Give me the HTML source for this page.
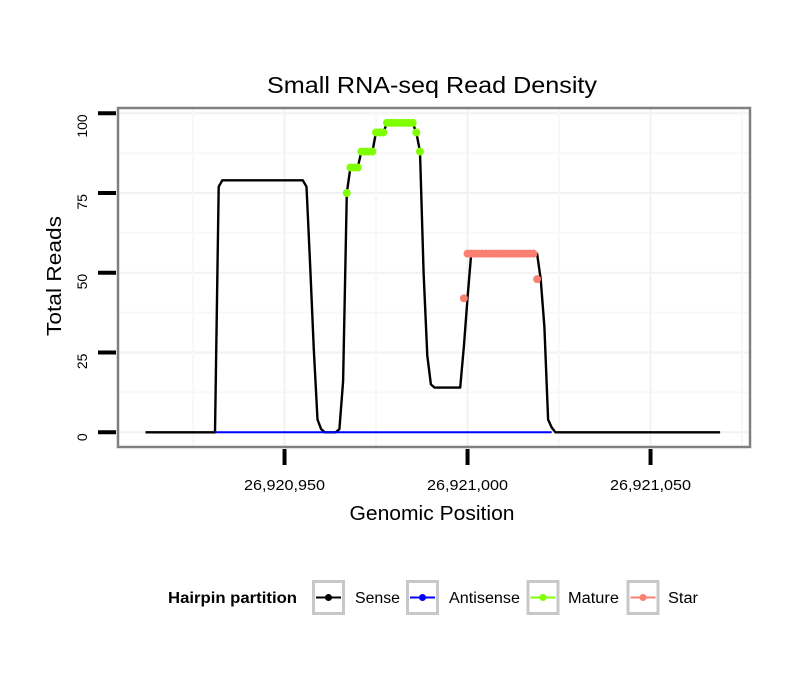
<!DOCTYPE html>
<html><head><meta charset="utf-8"><style>
body{margin:0;background:#fff}
svg text{font-family:"Liberation Sans",sans-serif}
</style></head><body>
<svg id="chart" width="810" height="690" xmlns="http://www.w3.org/2000/svg">
<rect width="810" height="690" fill="#fff"/>
<text x="432" y="93" font-size="23" textLength="330" lengthAdjust="spacingAndGlyphs" text-anchor="middle">Small RNA-seq Read Density</text>
<g id="grid"></g>
<g id="series"></g>
<rect x="118" y="108" width="632" height="339" fill="none" stroke="#808080" stroke-width="2.5"/>
<g id="axes"></g>
<text x="432" y="520" font-size="20" textLength="165" lengthAdjust="spacingAndGlyphs" text-anchor="middle">Genomic Position</text>
<text x="0" y="0" font-size="20" textLength="120" lengthAdjust="spacingAndGlyphs" text-anchor="middle" transform="translate(61,276) rotate(-90)">Total Reads</text>
<g>
<text x="168" y="603" font-size="16" font-weight="bold" textLength="129" lengthAdjust="spacingAndGlyphs">Hairpin partition</text>
<g><rect x="313.5" y="581.5" width="30" height="32" fill="#fff" stroke="#c8c8c8" stroke-width="3"/><line x1="316" y1="597.5" x2="341" y2="597.5" stroke="#000" stroke-width="2"/><circle cx="328.5" cy="597.5" r="3.5" fill="#000"/><text x="355" y="603" font-size="15.5" textLength="45" lengthAdjust="spacingAndGlyphs">Sense</text></g>
<g><rect x="407.5" y="581.5" width="30" height="32" fill="#fff" stroke="#c8c8c8" stroke-width="3"/><line x1="410" y1="597.5" x2="435" y2="597.5" stroke="#0000ff" stroke-width="2"/><circle cx="422.5" cy="597.5" r="3.5" fill="#0000ff"/><text x="449" y="603" font-size="15.5" textLength="71" lengthAdjust="spacingAndGlyphs">Antisense</text></g>
<g><rect x="528" y="581.5" width="30" height="32" fill="#fff" stroke="#c8c8c8" stroke-width="3"/><line x1="530.5" y1="597.5" x2="555.5" y2="597.5" stroke="#7fff00" stroke-width="2"/><circle cx="543" cy="597.5" r="3.5" fill="#7fff00"/><text x="568" y="603" font-size="15.5" textLength="51" lengthAdjust="spacingAndGlyphs">Mature</text></g>
<g><rect x="628" y="581.5" width="30" height="32" fill="#fff" stroke="#c8c8c8" stroke-width="3"/><line x1="630.5" y1="597.5" x2="655.5" y2="597.5" stroke="#fa8072" stroke-width="2"/><circle cx="643" cy="597.5" r="3.5" fill="#fa8072"/><text x="668" y="603" font-size="15.5" textLength="30" lengthAdjust="spacingAndGlyphs">Star</text></g>
</g>
</svg>
<script>
const START = 26920912;
const senseValues = [0,0,0,0,0,0,0,0,0,0,0,0,0,0,0,0,0,0,0,
 0,77,79,79,79,79,79,79,79,79,79,79,79,79,79,79,79,79,79,79,79,79,79,79,79,77,52,26,4,1,0,0,0,0,1,16,
 75,83,83,83,88,88,88,88,94,94,94,97,97,97,97,97,97,97,97,94,88,50,24,15,14,14,14,14,14,14,14,14,27,42,
 56,56,56,56,56,56,56,56,56,56,56,56,56,56,56,56,56,56,56,48,33,4,1.5,0,
 0,0,0,0,0,0,0,0,0,0,0,0,0,0,0,0,0,0,0,0,0,0,0,0,0,0,0,0,0,0,0,0,0,0,0,0,0,0,0,0,0,0,0,0,0];
const antisenseStart = 26920931;
const antisenseValues = new Array(93).fill(0);
const matureStart = 26920967;
const matureValues = [75,83,83,83,88,88,88,88,94,94,94,97,97,97,97,97,97,97,97,94,88];
const starStart = 26920999;
const starValues = [42,56,56,56,56,56,56,56,56,56,56,56,56,56,56,56,56,56,56,56,48];
const xTicks = [26920950, 26921000, 26921050];
const xTickLabels = ["26,920,950","26,921,000","26,921,050"];
const yTicks = [0,25,50,75,100];

const NS="http://www.w3.org/2000/svg";
const x = p => 215 + (p - 26920931) * 3.66;
const y = v => 432.3 - v * 3.19;
function mk(tag, attrs, parent){const e=document.createElementNS(NS,tag);for(const k in attrs)e.setAttribute(k,attrs[k]);parent.appendChild(e);return e;}
const grid=document.getElementById('grid'), series=document.getElementById('series'), axes=document.getElementById('axes');
yTicks.forEach((t,i)=>{
  const l=mk('line',{x1:119,x2:749,y1:y(t),y2:y(t),stroke:'#f2f2f2','stroke-width':2},grid);
  
  
  if(i<yTicks.length-1){const m=mk('line',{x1:119,x2:749,y1:y(t+12.5),y2:y(t+12.5),stroke:'#f8f8f8','stroke-width':2},grid);
  
  }
});
xTicks.forEach((t,i)=>{
  const l=mk('line',{x1:x(t),x2:x(t),y1:109,y2:446,stroke:'#f2f2f2','stroke-width':2},grid);
  
  
  const m=mk('line',{x1:x(t-25),x2:x(t-25),y1:109,y2:446,stroke:'#f8f8f8','stroke-width':2},grid);
  
  
});
const m2=mk('line',{x1:x(26921075),x2:x(26921075),y1:109,y2:446,stroke:'#f8f8f8','stroke-width':2},grid);


yTicks.forEach(t=>{
  const l=mk('line',{x1:98,x2:116,y1:y(t),y2:y(t),stroke:'#000','stroke-width':4},axes);
  
  
  const tx=mk('text',{x:0,y:0,'font-size':14,'text-anchor':'end',transform:`translate(87,${y(t)+1}) rotate(-90)`},axes);
  tx.textContent=t;
  
  
});
xTicks.forEach((t,i)=>{
  const l=mk('line',{x1:x(t),x2:x(t),y1:449,y2:465,stroke:'#000','stroke-width':4},axes);
  
  
  const tx=mk('text',{x:x(t),y:490,'font-size':15,'text-anchor':'middle',textLength:81,lengthAdjust:'spacingAndGlyphs'},axes);
  tx.textContent=xTickLabels[i];
  
  
});
function path(start, vals, color, w, name){
  const d=vals.map((v,i)=>(i?'L':'M')+x(start+i).toFixed(1)+','+y(v).toFixed(1)).join('');
  const p=mk('path',{d:d,fill:'none',stroke:color,'stroke-width':w,'stroke-linejoin':'round'},series);
  
  
}
path(START, senseValues, '#000', 2.4, 'sense-line');
path(antisenseStart, antisenseValues, '#0000ff', 2, 'antisense-line');
function pts(start, vals, color, name){
  vals.forEach((v,i)=>{
    const c=mk('circle',{cx:x(start+i),cy:y(v),r:4,fill:color},series);
    
    
  });
}
pts(matureStart, matureValues, '#7fff00', 'mature-point');
pts(starStart, starValues, '#fa8072', 'star-point');
</script>
</body></html>
